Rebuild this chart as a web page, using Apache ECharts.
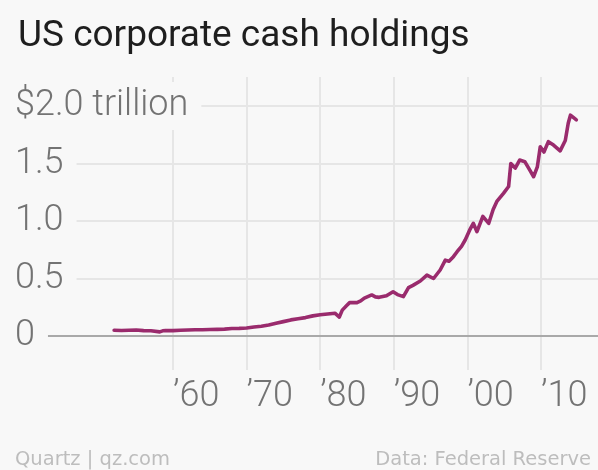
<!DOCTYPE html>
<html>
<head>
<meta charset="utf-8">
<script src="https://cdn.jsdelivr.net/npm/echarts@6/dist/echarts.min.js"></script>
<style>
  html, body { margin: 0; padding: 0; background: #f8f8f8; }
  #chart { width: 598px; height: 470px; }
</style>
</head>
<body>
<div id="chart"></div>
<script>
// ---- Data ----
const titleText = 'US corporate cash holdings';
const sourceLeft = 'Quartz | qz.com';
const sourceRight = 'Data: Federal Reserve';

const xTickLabels = ['\u201960', '\u201970', '\u201980', '\u201990', '\u201900', '\u201910'];
const yTickLabels = ['0', '0.5', '1.0', '1.5', '$2.0 trillion'];

const years = [
  1952.0, 1953.0, 1954.0, 1955.0, 1956.0, 1957.0, 1958.2, 1958.6, 1959.0, 1960.0,
  1961.0, 1962.0, 1963.0, 1964.0, 1965.0, 1966.0, 1967.0, 1968.0, 1969.0, 1970.0,
  1971.0, 1972.0, 1973.0, 1974.0, 1975.0, 1976.0, 1977.0, 1978.0, 1979.0, 1980.0,
  1981.0, 1982.0, 1982.6, 1983.0, 1983.6, 1984.0, 1985.0, 1985.5, 1986.0, 1987.0,
  1987.5, 1988.0, 1989.0, 1989.9, 1990.5, 1991.3, 1992.0, 1992.6, 1993.6, 1994.5,
  1995.4, 1996.3, 1997.0, 1997.5, 1998.1, 1998.6, 1999.2, 1999.7, 2000.3, 2000.8,
  2001.3, 2002.1, 2002.9, 2003.5, 2004.0, 2004.9, 2005.6, 2005.9, 2006.5, 2007.1,
  2007.8, 2008.5, 2009.0, 2009.5, 2009.9, 2010.4, 2011.0, 2011.7, 2012.6, 2013.3,
  2013.7, 2014.0, 2014.6, 2014.8
];
const cash = [
  0.050, 0.048, 0.050, 0.052, 0.047, 0.045, 0.036, 0.045, 0.048, 0.047,
  0.050, 0.052, 0.054, 0.055, 0.057, 0.058, 0.060, 0.065, 0.066, 0.070,
  0.078, 0.085, 0.095, 0.110, 0.125, 0.140, 0.150, 0.160, 0.175, 0.185,
  0.192, 0.198, 0.165, 0.225, 0.265, 0.290, 0.290, 0.305, 0.330, 0.357,
  0.340, 0.336, 0.350, 0.385, 0.360, 0.342, 0.420, 0.440, 0.478, 0.530,
  0.500, 0.574, 0.660, 0.650, 0.690, 0.733, 0.780, 0.835, 0.920, 0.980,
  0.907, 1.040, 0.980, 1.100, 1.170, 1.240, 1.300, 1.500, 1.460, 1.530,
  1.516, 1.440, 1.385, 1.470, 1.646, 1.600, 1.690, 1.660, 1.610, 1.700,
  1.850, 1.920, 1.890, 1.880
];

// ---- Layout ----
const W = 598;
const gridLeft = 40;
const firstDecadeX = 173, lastDecadeX = 541;   // pixel positions of 1960 / 2010 gridlines
const firstDecade = 1960, lastDecade = 2010;
const pxPerYear = (lastDecadeX - firstDecadeX) / (lastDecade - firstDecade);
const xMin = firstDecade - (firstDecadeX - gridLeft) / pxPerYear;
const xMax = firstDecade + (W - firstDecadeX) / pxPerYear;

const BG = '#f8f8f8';
const GRID = '#e6e6e6';
const labelFont = 'Roboto, "Noto Sans", sans-serif';

const chart = echarts.init(document.getElementById('chart'), null, { renderer: 'canvas' });

chart.setOption({
  backgroundColor: BG,
  animation: false,
  title: {
    text: titleText,
    left: 13,
    top: 13,
    textStyle: { fontFamily: labelFont, fontSize: 37, fontWeight: 400, color: '#1e1e1e' }
  },
  graphic: [
    { type: 'text', left: 15, top: 450,
      style: { text: sourceLeft, font: '19.5px "DejaVu Sans", sans-serif', fill: '#bdbdbd' } },
    { type: 'text', right: 7, top: 450,
      style: { text: sourceRight, font: '19.5px "DejaVu Sans", sans-serif', fill: '#bdbdbd' } }
  ],
  grid: [
    { left: gridLeft, right: 0, top: 106, bottom: 134 },
    { left: firstDecadeX, right: W - lastDecadeX, top: 77, bottom: 134 }
  ],
  xAxis: [
    {
      type: 'value', gridIndex: 0, min: xMin, max: xMax, z: 1,
      axisLine: { show: true, onZero: false, lineStyle: { color: '#a9a9a9', width: 2 } },
      axisTick: { show: false }, axisLabel: { show: false }, splitLine: { show: false }
    },
    {
      type: 'category', gridIndex: 1, data: xTickLabels, boundaryGap: false, z: 0,
      axisLine: { show: false },
      axisTick: { show: true, interval: 0, length: 34, lineStyle: { color: GRID, width: 2 } },
      splitLine: { show: true, interval: 0, lineStyle: { color: GRID, width: 2 } },
      axisLabel: {
        interval: 0, margin: 43, align: 'left', showMinLabel: true, showMaxLabel: true,
        fontFamily: labelFont, fontSize: 36, fontWeight: 300, color: '#737373'
      }
    }
  ],
  yAxis: [
    {
      type: 'value', gridIndex: 0, min: 0, max: 2, interval: 0.5, z: 5,
      axisLine: { show: false }, axisTick: { show: false },
      splitLine: { show: true, showMinLine: false, lineStyle: { color: GRID, width: 2 } },
      axisLabel: {
        inside: false, margin: gridLeft - 15, align: 'left', verticalAlign: 'middle',
        fontFamily: labelFont, fontSize: 36, fontWeight: 300, color: '#737373',
        backgroundColor: BG, padding: [6, 13, 6, 0],
        showMinLabel: true, showMaxLabel: true,
        formatter: (v) => yTickLabels[Math.round(v / 0.5)]
      }
    },
    { type: 'value', gridIndex: 1, min: 0, max: 1, show: false }
  ],
  series: [
    {
      type: 'line', xAxisIndex: 0, yAxisIndex: 0, z: 10,
      data: years.map((y, i) => [y, cash[i]]),
      showSymbol: false, symbol: 'none',
      lineStyle: { color: '#9a2b6d', width: 3.6, join: 'round', cap: 'round' }
    }
  ]
});
</script>
</body>
</html>
